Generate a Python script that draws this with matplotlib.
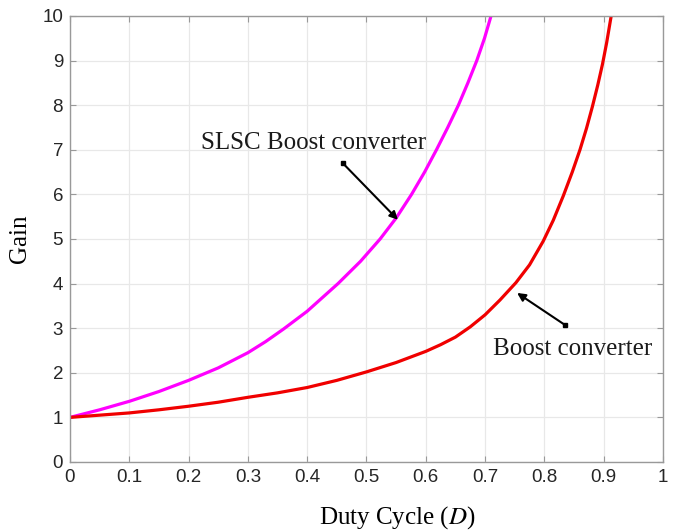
import matplotlib
matplotlib.use("Agg")
import matplotlib.pyplot as plt

# values
duty_boost = [0, 0.05, 0.1, 0.15, 0.2, 0.25, 0.3, 0.35, 0.4, 0.45, 0.5, 0.55, 0.6,
              0.625, 0.65, 0.675, 0.7, 0.725, 0.752, 0.775, 0.798, 0.815, 0.832, 0.847,
              0.86, 0.871, 0.881, 0.89, 0.898, 0.905, 0.912, 0.914]
gain_boost = [1.0, 1.05, 1.10, 1.17, 1.25, 1.34, 1.45, 1.55, 1.67, 1.83, 2.02, 2.23, 2.48,
              2.63, 2.8, 3.03, 3.3, 3.63, 4.02, 4.42, 4.95, 5.42, 5.97, 6.5,
              7.0, 7.48, 7.97, 8.45, 8.92, 9.4, 9.95, 10.1]

duty_slsc = [0, 0.05, 0.1, 0.15, 0.2, 0.25, 0.3, 0.33, 0.36, 0.4, 0.452, 0.49, 0.523,
             0.55, 0.576, 0.598, 0.618, 0.637, 0.655, 0.671, 0.686, 0.699, 0.71, 0.712]
gain_slsc = [1.0, 1.17, 1.36, 1.58, 1.83, 2.11, 2.45, 2.7, 2.98, 3.38, 4.0, 4.5, 5.0,
             5.47, 6.0, 6.5, 7.0, 7.5, 8.0, 8.5, 9.0, 9.5, 10.0, 10.1]

x_ticks = [0, 0.1, 0.2, 0.3, 0.4, 0.5, 0.6, 0.7, 0.8, 0.9, 1]
x_ticklabels = ["0", "0.1", "0.2", "0.3", "0.4", "0.5", "0.6", "0.7", "0.8", "0.9", "1"]
y_ticks = list(range(0, 11))

plt.rcParams["mathtext.fontset"] = "stix"

fig = plt.figure(figsize=(6.75, 5.32), dpi=100)
ax = fig.add_axes([0.1037, 0.1316, 0.8785, 0.8384])

ax.plot(duty_slsc, gain_slsc, color="#ff00ff", lw=2.3, solid_joinstyle="round")
ax.plot(duty_boost, gain_boost, color="#f00000", lw=2.3, solid_joinstyle="round")

ax.set_xlim(0, 1)
ax.set_ylim(0, 10)
ax.set_xticks(x_ticks)
ax.set_xticklabels(x_ticklabels)
ax.set_yticks(y_ticks)
ax.grid(True, color="#e8e8e8", lw=0.9)
ax.set_axisbelow(True)
ax.tick_params(direction="in", top=True, right=True, length=4, color="#999999",
               labelsize=13.5, labelcolor="#262626", pad=5)
for lab in ax.get_xticklabels() + ax.get_yticklabels():
    lab.set_fontfamily("Liberation Sans")
for s in ax.spines.values():
    s.set_color("#999999")
    s.set_linewidth(1.0)

ax.set_ylabel("Gain", fontsize=18, family="Liberation Serif", labelpad=8)
ax.set_xlabel("Duty Cycle ($\\mathit{D}$)", fontsize=18, family="Liberation Serif")
ax.xaxis.set_label_coords(0.551, -0.095)

# annotations
arrow = dict(arrowstyle="-|>", color="black", lw=1.5, mutation_scale=12, shrinkA=0, shrinkB=0)
ax.annotate("", xy=(0.553, 5.43), xytext=(0.460, 6.70), arrowprops=arrow)
ax.plot([0.460], [6.70], marker="s", ms=3.5, color="black")
ax.text(0.411, 7.15, "SLSC Boost converter", fontsize=18, family="Liberation Serif",
        ha="center", va="center", color="#1a1a1a")

ax.annotate("", xy=(0.754, 3.79), xytext=(0.835, 3.07), arrowprops=arrow)
ax.plot([0.835], [3.07], marker="s", ms=3.5, color="black")
ax.text(0.847, 2.53, "Boost converter", fontsize=18, family="Liberation Serif",
        ha="center", va="center", color="#1a1a1a")

fig.savefig("out.png", dpi=100)
